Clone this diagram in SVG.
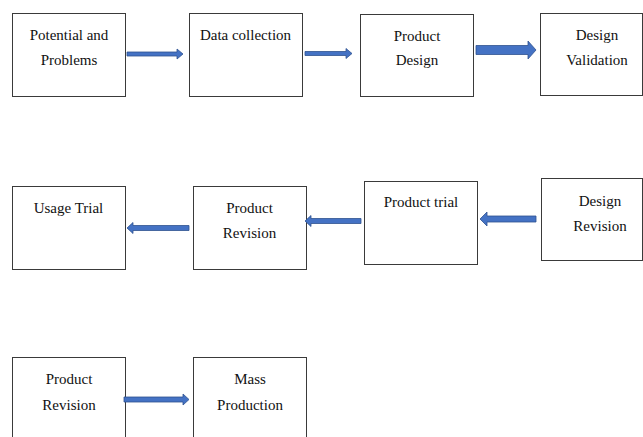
<svg xmlns="http://www.w3.org/2000/svg" width="643" height="437" viewBox="0 0 643 437">
  <style>
    .box { fill: #ffffff; stroke: #3a3a3a; stroke-width: 1; }
    .lbl { font-size: 15px; fill: #111111; text-anchor: middle; }
    .arr { fill: #4472c4; stroke: #2f528f; stroke-width: 0.8; stroke-linejoin: miter; }
  </style>
  <rect width="643" height="437" fill="#ffffff"/>

  <g font-family="Liberation Serif, DejaVu Serif, Noto Serif, serif">
  <!-- row 1 -->
  <g id="potential-problems">
    <rect class="box" x="12.5" y="13.5" width="113" height="83"/>
    <text class="lbl" x="69" y="40">Potential and</text>
    <text class="lbl" x="69" y="65">Problems</text>
  </g>
  <g id="data-collection">
    <rect class="box" x="189.5" y="13.5" width="113" height="83"/>
    <text class="lbl" x="245.5" y="40">Data collection</text>
  </g>
  <g id="product-design">
    <rect class="box" x="360.5" y="14.5" width="113" height="82"/>
    <text class="lbl" x="417" y="41">Product</text>
    <text class="lbl" x="417" y="65">Design</text>
  </g>
  <g id="design-validation">
    <rect class="box" x="540.5" y="13.5" width="102" height="82"/>
    <text class="lbl" x="597" y="40">Design</text>
    <text class="lbl" x="597" y="65">Validation</text>
  </g>

  <!-- row 2 -->
  <g id="usage-trial">
    <rect class="box" x="12.5" y="186.5" width="113" height="83"/>
    <text class="lbl" x="68.5" y="213">Usage Trial</text>
  </g>
  <g id="product-revision-1">
    <rect class="box" x="193.5" y="186.5" width="113" height="83"/>
    <text class="lbl" x="249.5" y="213">Product</text>
    <text class="lbl" x="249.5" y="238">Revision</text>
  </g>
  <g id="product-trial">
    <rect class="box" x="364.5" y="181.5" width="113" height="83"/>
    <text class="lbl" x="421" y="207">Product trial</text>
  </g>
  <g id="design-revision">
    <rect class="box" x="541.5" y="178.5" width="101" height="82"/>
    <text class="lbl" x="600" y="206">Design</text>
    <text class="lbl" x="600" y="231">Revision</text>
  </g>

  <!-- row 3 -->
  <g id="product-revision-2">
    <rect class="box" x="12.5" y="357.5" width="113" height="90"/>
    <text class="lbl" x="69" y="384">Product</text>
    <text class="lbl" x="69" y="410">Revision</text>
  </g>
  <g id="mass-production">
    <rect class="box" x="193.5" y="357.5" width="113" height="90"/>
    <text class="lbl" x="250" y="384">Mass</text>
    <text class="lbl" x="250" y="410">Production</text>
  </g>
  </g>

  <!-- block arrows -->
  <g id="connectors">
    <path class="arr" d="M127,52 H177 V49 L183,54 L177,59 V56 H127 Z"/>
    <path class="arr" d="M305,51.5 H346 V48.5 L352,53.5 L346,58.5 V55.5 H305 Z"/>
    <path class="arr" d="M476,45.5 H528 V41 L536,50 L528,59 V54.5 H476 Z"/>
    <path class="arr" d="M189,225.5 H133 V222.5 L127,228 L133,233.5 V230.5 H189 Z"/>
    <path class="arr" d="M361,218.5 H311 V215.5 L305,221 L311,226.5 V223.5 H361 Z"/>
    <path class="arr" d="M536,216 H487 V212 L480,219 L487,226 V222 H536 Z"/>
    <path class="arr" d="M124,397 H183 V394 L189,399.5 L183,405 V402 H124 Z"/>
  </g>
</svg>
